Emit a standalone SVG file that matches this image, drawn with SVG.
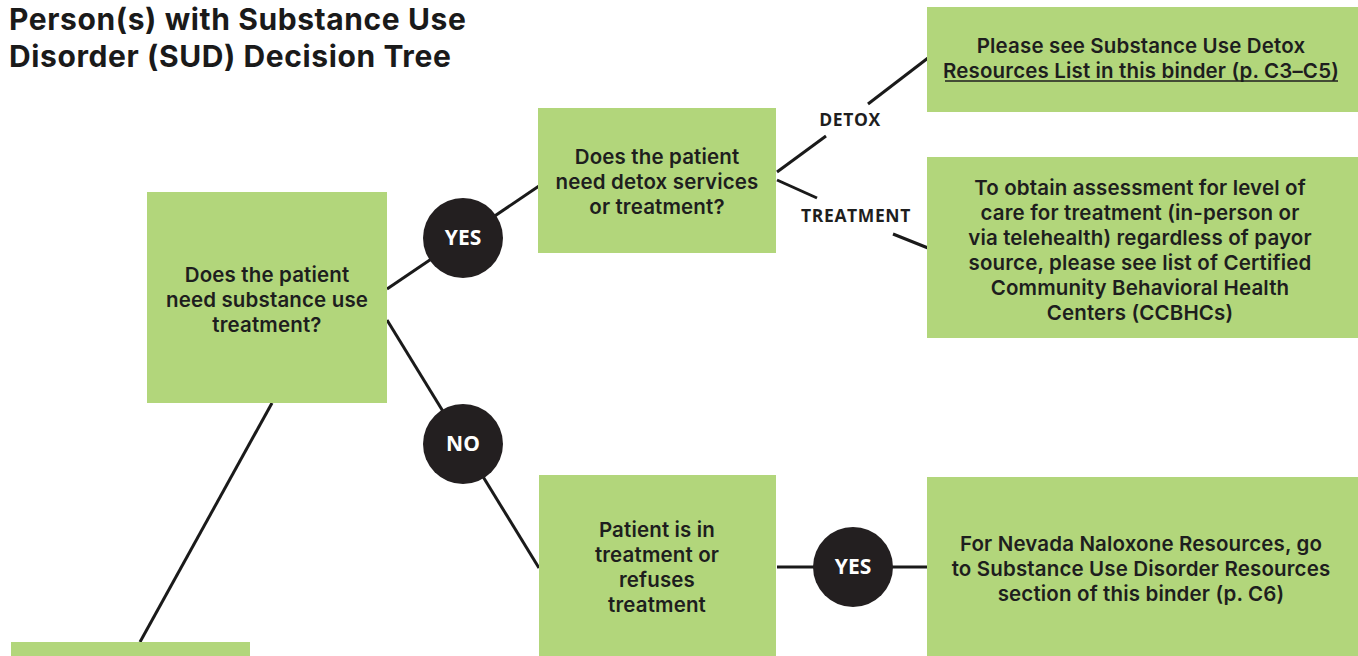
<svg xmlns="http://www.w3.org/2000/svg" width="1358" height="656" viewBox="0 0 1358 656">
<style>
.box{fill:#b2d67b;}
.t{font-family:Inter,Lato,sans-serif;font-weight:600;font-size:20.5px;fill:#1e1e1e;text-anchor:middle;letter-spacing:0.15px;}
.title{font-family:Inter,Lato,sans-serif;font-weight:700;font-size:30px;fill:#1a1a1a;letter-spacing:0.6px;}
.lbl{font-family:"Open Sans","Liberation Sans",sans-serif;font-weight:700;font-size:17.5px;fill:#1e1e1e;text-anchor:middle;letter-spacing:0.6px;}
.circ{fill:#231f20;}
.ct{font-family:"Open Sans","Liberation Sans",sans-serif;font-weight:700;font-size:21px;fill:#ffffff;text-anchor:middle;}
.ln{stroke:#1a1a1a;stroke-width:3;fill:none;}
</style>
<rect width="1358" height="656" fill="#ffffff"/>
<g id="title">
<text class="title"><tspan x="9" y="30">Person(s) with Substance Use</tspan><tspan x="9" y="67">Disorder (SUD) Decision Tree</tspan></text>
</g>
<g id="connectors">
<line class="ln" x1="387" y1="289" x2="539" y2="186"/>
<line class="ln" x1="387" y1="320" x2="539" y2="568"/>
<line class="ln" x1="777" y1="567" x2="928" y2="567"/>
<line class="ln" x1="272" y1="403" x2="140" y2="642"/>
<line class="ln" x1="777" y1="172" x2="826" y2="136"/>
<line class="ln" x1="868" y1="104" x2="928" y2="58"/>
<line class="ln" x1="777" y1="180" x2="817" y2="198"/>
<line class="ln" x1="893" y1="234" x2="928" y2="248"/>
</g>
<g id="node-detox-label"><text class="lbl" x="850" y="126">DETOX</text></g>
<g id="node-treatment-label"><text class="lbl" x="856" y="222">TREATMENT</text></g>
<g id="node-a">
<rect class="box" x="147" y="192" width="240" height="211"/>
<text class="t"><tspan x="267" y="282">Does the patient</tspan><tspan x="267" y="307">need substance use</tspan><tspan x="267" y="332">treatment?</tspan></text>
</g>
<g id="node-b">
<rect class="box" x="538" y="108" width="238" height="145"/>
<text class="t"><tspan x="657" y="164">Does the patient</tspan><tspan x="657" y="189">need detox services</tspan><tspan x="657" y="214">or treatment?</tspan></text>
</g>
<g id="node-c">
<rect class="box" x="927" y="7" width="431" height="105"/>
<text class="t"><tspan x="1141" y="53">Please see Substance Use Detox</tspan><tspan x="1141" y="78">Resources List in this binder (p. C3–C5)</tspan></text>
<line x1="945" y1="81" x2="1338" y2="81" stroke="#1e1e1e" stroke-width="1.5"/>
</g>
<g id="node-d">
<rect class="box" x="927" y="157" width="431" height="181"/>
<text class="t"><tspan x="1140" y="195">To obtain assessment for level of</tspan><tspan x="1140" y="220">care for treatment (in-person or</tspan><tspan x="1140" y="245">via telehealth) regardless of payor</tspan><tspan x="1140" y="270">source,  please see list of Certified</tspan><tspan x="1140" y="295">Community Behavioral Health</tspan><tspan x="1140" y="320">Centers (CCBHCs)</tspan></text>
</g>
<g id="node-e">
<rect class="box" x="539" y="475" width="237" height="181"/>
<text class="t"><tspan x="657" y="537">Patient is in</tspan><tspan x="657" y="562">treatment or</tspan><tspan x="657" y="587">refuses</tspan><tspan x="657" y="612">treatment</tspan></text>
</g>
<g id="node-f">
<rect class="box" x="927" y="477" width="431" height="179"/>
<text class="t"><tspan x="1141" y="551">For Nevada Naloxone Resources, go</tspan><tspan x="1141" y="576">to Substance Use Disorder Resources</tspan><tspan x="1141" y="601">section of this binder (p. C6)</tspan></text>
</g>
<g id="node-g">
<rect class="box" x="11" y="642" width="239" height="14"/>
</g>
<g id="node-yes1">
<circle class="circ" cx="463" cy="238" r="40"/>
<text class="ct" x="463" y="245">YES</text>
</g>
<g id="node-no">
<circle class="circ" cx="463" cy="444" r="40"/>
<text class="ct" x="463" y="451">NO</text>
</g>
<g id="node-yes2">
<circle class="circ" cx="853" cy="567" r="40"/>
<text class="ct" x="853" y="574">YES</text>
</g>
</svg>
